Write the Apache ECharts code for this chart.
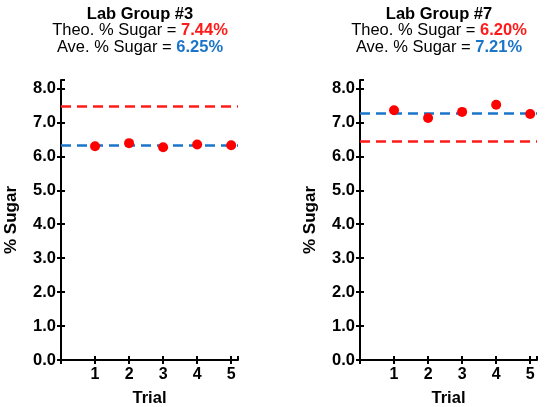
<!DOCTYPE html>
<html>
<head>
<meta charset="utf-8">
<script src="https://cdn.jsdelivr.net/npm/echarts@6/dist/echarts.min.js"></script>
<style>html,body{margin:0;padding:0;background:#fff}#chart{width:550px;height:407px}</style>
</head>
<body>
<div id="chart"></div>
<script>
var trials = [1, 2, 3, 4, 5];
var groupNames = ['Lab Group #3', 'Lab Group #7'];
var theoLabels = ['7.44%', '6.20%'];
var aveLabels = ['6.25%', '7.21%'];
// values (lines drawn where they appear)
var theoLine = [7.48, 6.45];
var aveLine = [6.34, 7.27];
var group3 = [6.30, 6.39, 6.27, 6.35, 6.33];
var group7 = [7.36, 7.13, 7.31, 7.52, 7.25];
var groupData = [group3, group7];

var myChart = echarts.init(document.getElementById('chart'));
var font = 'Liberation Sans, Arial, sans-serif';
var red = '#ff1a1a', blue = '#1a75c9';

var grids = [
    { left: 61, right: 312, top: 80, bottom: 47, outerBoundsMode: 'none' },
    { left: 360, right: 13, top: 80, bottom: 47, outerBoundsMode: 'none' }
];
var centers = [135, 434];

var titles = [], xAxes = [], yAxes = [], series = [];
grids.forEach(function (g, i) {
    titles.push({
        text: '{b|' + groupNames[i] + '}\n{n|Theo. % Sugar = }{r|' + theoLabels[i] + '}\n{n|Ave. % Sugar = }{u|' + aveLabels[i] + '}',
        left: centers[i], top: 1, textAlign: 'center',
        textStyle: {
            fontFamily: font, fontWeight: 'normal', fontSize: 16.5, lineHeight: 16.5,
            rich: {
                b: { fontSize: 16.5, fontWeight: 'bold', color: '#000', fontFamily: font, lineHeight: 16.5 },
                n: { fontSize: 16.5, fontWeight: 'normal', color: '#000', fontFamily: font, lineHeight: 16.5 },
                r: { fontSize: 16.5, fontWeight: 'bold', color: red, fontFamily: font, lineHeight: 16.5 },
                u: { fontSize: 16.5, fontWeight: 'bold', color: blue, fontFamily: font, lineHeight: 16.5 }
            }
        }
    });
    var axLine = { lineStyle: { color: '#000', width: 2 } };
    // outer ticks + labels
    xAxes.push({
        gridIndex: i, type: 'value', min: 0, max: 5.2, interval: 1, position: 'bottom',
        name: 'Trial', nameLocation: 'middle', nameGap: 30,
        nameTextStyle: { fontFamily: font, fontWeight: 'bold', fontSize: 16.5, color: '#000' },
        axisLine: axLine, splitLine: { show: false },
        axisTick: { length: 4, lineStyle: { color: '#000', width: 2 } },
        axisLabel: { fontFamily: font, fontWeight: 'bold', fontSize: 16, color: '#000', margin: 7,
            formatter: function (v) { return v === 0 ? '' : v; } }
    });
    // inner half of the crossing ticks
    xAxes.push({
        gridIndex: i, type: 'value', min: 0, max: 5.2, interval: 1, position: 'bottom',
        axisLine: { show: false }, splitLine: { show: false }, axisLabel: { show: false },
        axisTick: { inside: true, length: 4, lineStyle: { color: '#000', width: 2 } }
    });
    yAxes.push({
        gridIndex: i, type: 'value', min: 0, max: 8.25, interval: 1,
        name: '% Sugar', nameLocation: 'middle', nameGap: 41, nameRotate: 90,
        nameTextStyle: { fontFamily: font, fontWeight: 'bold', fontSize: 17, color: '#000' },
        axisLine: { show: true, lineStyle: { color: '#000', width: 2 } }, splitLine: { show: false },
        axisTick: { show: true, length: 4, lineStyle: { color: '#000', width: 2 } },
        axisLabel: { fontFamily: font, fontWeight: 'bold', fontSize: 16.5, color: '#000', margin: 5,
            showMaxLabel: false,
            formatter: function (v) { return v.toFixed(1); } }
    });
    yAxes.push({
        gridIndex: i, type: 'value', min: 0, max: 8.25, interval: 1, position: 'left',
        axisLine: { show: false }, splitLine: { show: false }, axisLabel: { show: false },
        axisTick: { show: true, inside: true, length: 4, lineStyle: { color: '#000', width: 2 } }
    });
    series.push({
        type: 'scatter', xAxisIndex: i * 2, yAxisIndex: i * 2,
        symbolSize: 10, itemStyle: { color: '#ff0000', opacity: 1 },
        data: trials.map(function (t, k) { return [t, groupData[i][k]]; }),
        markLine: {
            silent: true, symbol: 'none', label: { show: false },
            data: [
                { yAxis: theoLine[i], lineStyle: { color: red, type: [10, 6], width: 2.5, opacity: 1 } },
                { yAxis: aveLine[i], lineStyle: { color: blue, type: [10, 6], width: 2.5, opacity: 1 } }
            ]
        },
        z: 5
    });
});

var option = {
    animation: false,
    title: titles,
    grid: grids,
    xAxis: xAxes,
    yAxis: yAxes,
    series: series
};

myChart.setOption(option);
</script>
</body>
</html>
